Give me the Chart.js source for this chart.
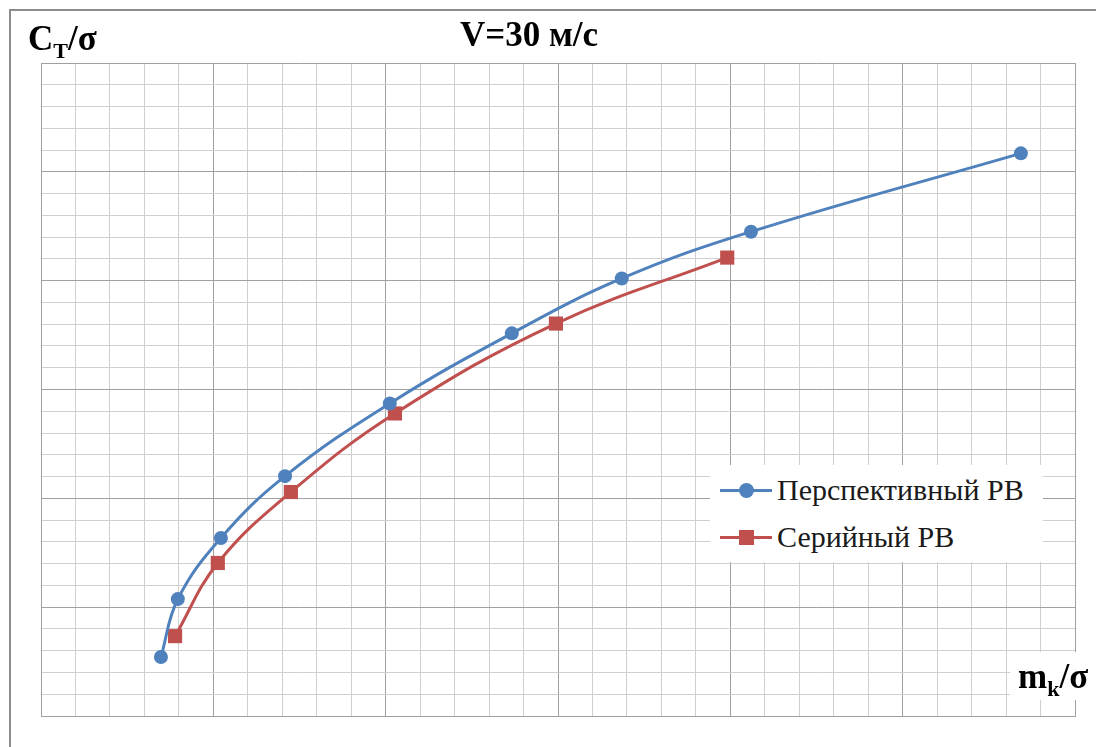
<!DOCTYPE html>
<html lang="ru">
<head>
  <meta charset="UTF-8" />
  <title>V=30 м/с</title>
  <script src="https://cdn.jsdelivr.net/npm/chart.js"></script>
  <style>
    body {
      margin: 0;
      background: #fff;
      font-family: "Liberation Serif", "Times New Roman", serif;
    }
    .wrap {
      position: relative;
      width: 1096px;
      height: 747px;
      overflow: hidden;
    }
    .frame {
      position: absolute;
      left: 9px;
      top: 9px;
      width: 1200px;
      height: 800px;
      border: 2px solid #8c8c8c;
    }
    canvas {
      position: absolute;
      left: 0;
      top: 0;
    }
    .lbl {
      position: absolute;
      font-family: "Liberation Serif", "Times New Roman", serif;
      font-weight: bold;
      line-height: 1;
      color: #000;
      white-space: nowrap;
    }
    .lbl sub {
      font-size: 22px;
      vertical-align: -8px;
      line-height: 1;
    }
    .legend {
      position: absolute;
      left: 710px;
      top: 465px;
      width: 333px;
      height: 97px;
      background: #fff;
    }
    .legend .row {
      position: absolute;
      left: 10px;
      font-family: "Liberation Serif", "Times New Roman", serif;
      font-size: 30px;
      line-height: 1;
      color: #1a1a1a;
      white-space: nowrap;
    }
    .legend .mark {
      position: absolute;
      left: 0;
      width: 52px;
      height: 3px;
    }
    .legend .dot {
      position: absolute;
      left: 19px;
      top: -6px;
      width: 15px;
      height: 15px;
    }
    .legend .txt {
      position: absolute;
      left: 57px;
      top: 0;
    }
  </style>
</head>
<body>
<div class="wrap">
  <div class="frame"></div>
  <canvas id="chart" width="1096" height="747"></canvas>
  <div class="lbl" style="left:28px; top:21px; font-size:35px;">C<sub>T</sub>/σ</div>
  <div class="lbl" style="left:0; width:1058px; text-align:center; top:17px; font-size:35px;">V=30 м/с</div>
  <div class="lbl" style="left:1010px; top:652px; width:86px; height:48px; background:#fff;"></div>
  <div class="lbl" style="left:1018px; top:659px; font-size:35px;">m<sub>k</sub>/σ</div>
  <div class="legend" id="legend"></div>
</div>

<script>
  // values in grid cells (30 x 30 cells, bold line every 5)
  const seriesNames = ['Перспективный РВ', 'Серийный РВ'];
  const seriesColors = ['#4f81bd', '#c0504d'];

  const perspX = [3.48, 3.97, 5.22, 7.08, 10.12, 13.66, 16.85, 20.60, 28.43];
  const perspY = [2.71, 5.37, 8.18, 11.02, 14.36, 17.58, 20.10, 22.25, 25.85];

  const serialX = [3.89, 5.13, 7.25, 10.27, 14.94, 19.91];
  const serialY = [3.67, 7.03, 10.29, 13.90, 18.03, 21.06];

  const toPoints = (xs, ys) => xs.map((x, i) => ({ x: x, y: ys[i] }));

  const gridColor = ctx => (ctx.tick && ctx.tick.value % 5 === 0) ? '#a0a0a0' : '#cfcfcf';

  new Chart(document.getElementById('chart'), {
    type: 'line',
    data: {
      datasets: [
        {
          label: seriesNames[0],
          data: toPoints(perspX, perspY),
          borderColor: seriesColors[0],
          backgroundColor: seriesColors[0],
          borderWidth: 3,
          pointStyle: 'circle',
          pointRadius: 7,
          pointBorderWidth: 0,
          tension: 0.4
        },
        {
          label: seriesNames[1],
          data: toPoints(serialX, serialY),
          borderColor: seriesColors[1],
          backgroundColor: seriesColors[1],
          borderWidth: 3,
          pointStyle: 'rect',
          pointRadius: 10,
          pointBorderWidth: 0,
          tension: 0.4
        }
      ]
    },
    options: {
      responsive: false,
      animation: false,
      layout: { padding: { left: 41, top: 63, right: 21, bottom: 31 } },
      plugins: {
        legend: { display: false },
        tooltip: { enabled: false }
      },
      scales: {
        x: {
          type: 'linear',
          min: 0,
          max: 30,
          ticks: { display: false, stepSize: 1 },
          grid: { color: gridColor, drawTicks: false, lineWidth: 1 },
          border: { color: '#a0a0a0' }
        },
        y: {
          type: 'linear',
          min: 0,
          max: 30,
          ticks: { display: false, stepSize: 1 },
          grid: { color: gridColor, drawTicks: false, lineWidth: 1 },
          border: { color: '#a0a0a0' }
        }
      }
    }
  });

  // legend
  const legend = document.getElementById('legend');
  const rowTops = [10, 57];
  seriesNames.forEach((name, i) => {
    const row = document.createElement('div');
    row.className = 'row';
    row.style.top = rowTops[i] + 'px';
    const mark = document.createElement('div');
    mark.className = 'mark';
    mark.style.top = '14px';
    mark.style.background = seriesColors[i];
    const dot = document.createElement('div');
    dot.className = 'dot';
    dot.style.background = seriesColors[i];
    if (i === 0) dot.style.borderRadius = '50%';
    mark.appendChild(dot);
    const txt = document.createElement('span');
    txt.className = 'txt';
    txt.textContent = name;
    row.appendChild(mark);
    row.appendChild(txt);
    legend.appendChild(row);
  });
</script>
</body>
</html>
